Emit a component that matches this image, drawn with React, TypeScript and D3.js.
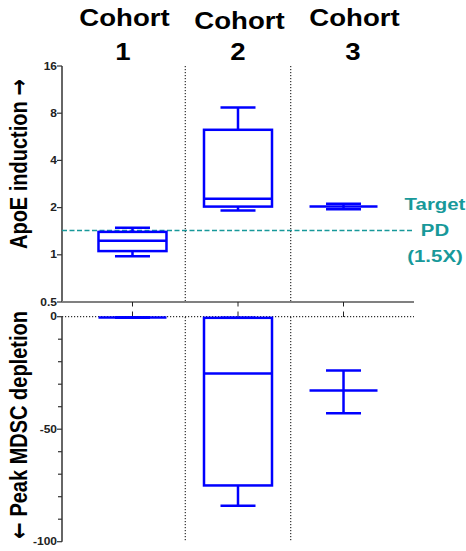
import React from "react";
import * as d3 from "d3";

const cohorts = ["Cohort 1", "Cohort 2", "Cohort 3"];
const cohortNumbers = ["1", "2", "3"];

// ApoE induction (fold) — [min, q1, median, q3, max]
const apoeMin = [0.98, 1.92, 1.95];
const apoeQ1 = [1.056, 2.03, 2.03];
const apoeMedian = [1.23, 2.28, 2.03];
const apoeQ3 = [1.4, 6.27, 2.03];
const apoeMax = [1.49, 8.7, 2.12];

// Peak MDSC depletion (%)
const mdscMin = [-0.4, -84, -42.9];
const mdscQ1 = [-0.4, -75, -32.8];
const mdscMedian = [-0.4, -25.2, -32.8];
const mdscQ3 = [-0.4, -0.5, -32.8];
const mdscMax = [-0.4, -0.5, -23.9];

const apoeTicks = [0.5, 1, 2, 4, 8, 16];
const mdscMajorTicks = [0, -50, -100];
const mdscMinorTicks = [-10, -20, -30, -40, -60, -70, -80, -90];
const targetPD = 1.43;
const targetLabel = ["Target", "PD", "(1.5X)"];

const W = 466;
const H = 551;
const BLUE = "#0000ff";
const TEAL = "#18999a";
const FONT = "'Liberation Sans', Arial, Helvetica, sans-serif";
const ARROW_FONT = "'DejaVu Sans', sans-serif";
const SX = 1.2; // horizontal stretch of the original text rendering

export default function App() {
  const x = d3.scalePoint<string>().domain(cohorts).range([62, 414]).padding(0.668);
  const yTop = d3.scaleLog().base(2).domain([0.5, 16]).range([302, 66]);
  const yBot = d3.scaleLinear().domain([-100, 0]).range([541.7, 316.7]);
  const boxHalf = 34;
  const capHalf = 17.5;
  const step = x.step();
  const separators = cohorts.slice(1).map((c) => (x(c) as number) - step / 2);

  const stretched = (tx: number, ty: number) => `translate(${tx},${ty}) scale(${SX},1)`;

  const renderBoxes = (
    y: (v: number) => number,
    mins: number[],
    q1s: number[],
    meds: number[],
    q3s: number[],
    maxs: number[],
    key: string
  ) =>
    cohorts.map((c, i) => {
      const cx = x(c) as number;
      const top = y(q3s[i]);
      const bot = y(q1s[i]);
      return (
        <g key={key + i} stroke={BLUE} strokeWidth={2.5} fill="none">
          <line x1={cx} x2={cx} y1={y(maxs[i])} y2={top} />
          <line x1={cx} x2={cx} y1={bot} y2={y(mins[i])} />
          <line x1={cx - capHalf} x2={cx + capHalf} y1={y(maxs[i])} y2={y(maxs[i])} />
          <line x1={cx - capHalf} x2={cx + capHalf} y1={y(mins[i])} y2={y(mins[i])} />
          <rect x={cx - boxHalf} y={top} width={boxHalf * 2} height={Math.max(0, bot - top)} />
          <line x1={cx - boxHalf} x2={cx + boxHalf} y1={y(meds[i])} y2={y(meds[i])} />
        </g>
      );
    });

  return (
    <svg width={W} height={H} style={{ position: "absolute", left: 0, top: 0 }} fontFamily={FONT}>
      <rect width={W} height={H} fill="#fff" />
      {/* Column headers */}
      {cohorts.map((c, i) => {
        const cx = x(c) as number;
        const hx = cx + (i - 1) * 9.5;
        return (
          <g key={"h" + i} fontWeight="bold" fontSize={23} textAnchor="middle" fill="#000">
            <text transform={stretched(hx + 1.5, i === 1 ? 29 : 26)}>Cohort</text>
            <text transform={stretched(hx, 60)}>{cohortNumbers[i]}</text>
          </g>
        );
      })}

      {/* separators */}
      {separators.map((sx, i) => (
        <g key={"s" + i} stroke="#000" strokeWidth={1} strokeDasharray="1.2,1.8">
          <line x1={sx} x2={sx} y1={66} y2={302} />
          <line x1={sx} x2={sx} y1={317} y2={541.7} />
        </g>
      ))}

      {/* Top panel axes */}
      <line x1={62} x2={62} y1={66} y2={302} stroke="#333" strokeWidth={1.5} />
      {apoeTicks.map((t) => (
        <g key={"t" + t}>
          <line x1={57} x2={62} y1={yTop(t)} y2={yTop(t)} stroke="#333" strokeWidth={1.2} />
          <text
            transform={stretched(57, yTop(t) + 3.6)}
            textAnchor="end"
            fontSize={10}
            fontWeight="bold"
            fill="#222"
          >
            {t}
          </text>
        </g>
      ))}
      <line x1={62} x2={414} y1={302} y2={302} stroke="#808080" strokeWidth={2} />
      {cohorts.map((c) => (
        <g key={"xt" + c} stroke="#222" strokeWidth={1}>
          <line x1={x(c) as number} x2={x(c) as number} y1={302} y2={306.5} />
          <line x1={x(c) as number} x2={x(c) as number} y1={311.5} y2={317} />
        </g>
      ))}

      {/* Target line */}
      <line
        x1={62}
        x2={413}
        y1={yTop(targetPD)}
        y2={yTop(targetPD)}
        stroke={TEAL}
        strokeWidth={1.5}
        strokeDasharray="5,2.5"
      />
      <g fill={TEAL} fontWeight="bold" fontSize={17} textAnchor="middle">
        {targetLabel.map((t, i) => (
          <text key={t} transform={stretched(435, 210 + i * 26)}>
            {t}
          </text>
        ))}
      </g>

      {renderBoxes((v) => yTop(v), apoeMin, apoeQ1, apoeMedian, apoeQ3, apoeMax, "a")}

      {/* Bottom panel axes */}
      <line x1={62} x2={414} y1={yBot(0)} y2={yBot(0)} stroke="#000" strokeWidth={1} strokeDasharray="1.2,1.8" />
      <line x1={62} x2={62} y1={yBot(0)} y2={yBot(-100)} stroke="#333" strokeWidth={1.5} />
      {mdscMinorTicks.map((t) => (
        <line key={"m" + t} x1={58} x2={62} y1={yBot(t)} y2={yBot(t)} stroke="#333" strokeWidth={1.2} />
      ))}
      {mdscMajorTicks.map((t) => (
        <g key={"M" + t}>
          <line x1={57} x2={62} y1={yBot(t)} y2={yBot(t)} stroke="#333" strokeWidth={1.2} />
          <text
            transform={stretched(57, yBot(t) + 3.6)}
            textAnchor="end"
            fontSize={10}
            fontWeight="bold"
            fill="#222"
          >
            {t}
          </text>
        </g>
      ))}

      {renderBoxes((v) => yBot(v), mdscMin, mdscQ1, mdscMedian, mdscQ3, mdscMax, "b")}

      {/* Y titles */}
      <text
        transform={`translate(26.5,164) scale(${SX},1) rotate(-90)`}
        textAnchor="middle"
        fontSize={20}
        fontWeight="bold"
        fill="#000"
      >
        ApoE induction <tspan fontFamily={ARROW_FONT}>→</tspan>
      </text>
      <text
        transform={`translate(26.5,425) scale(${SX},1) rotate(-90)`}
        textAnchor="middle"
        fontSize={20}
        fontWeight="bold"
        fill="#000"
      >
        <tspan fontFamily={ARROW_FONT}>←</tspan> Peak MDSC depletion
      </text>
    </svg>
  );
}
